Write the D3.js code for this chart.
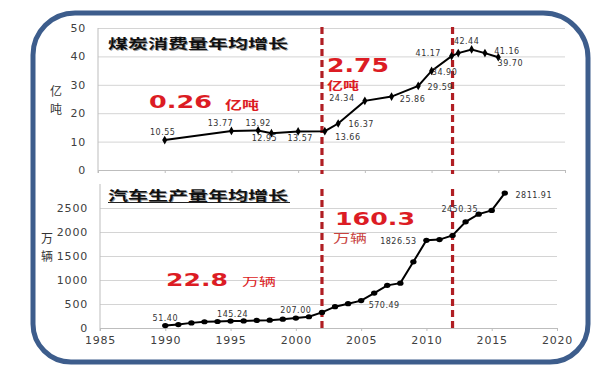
<!DOCTYPE html>
<html><head><meta charset="utf-8">
<script src="https://cdn.jsdelivr.net/npm/d3@7"></script>
<style>body{margin:0;background:#fff} svg{display:block}</style>
</head><body><svg id="c" width="600" height="366"></svg>
<script>
// ---------- data ----------
const xTicks = [1985,1990,1995,2000,2005,2010,2015,2020];
const coalTicks = [0,10,20,30,40,50];
const carTicks = [0,500,1000,1500,2000,2500];
const periodYears = [2002, 2012];

const coalYears  = [1990,1995,1997,1998,2000,2002,2003,2005,2007,2009,2010,2011.5,2012,2013,2014,2015];
const coalValues = [10.55,13.77,13.92,12.95,13.57,13.66,16.37,24.34,25.86,29.59,34.90,40.1,41.17,42.44,41.16,39.70];
const coalLabels = ["10.55","13.77","13.92","12.95","13.57","13.66","16.37","24.34","25.86","29.59","34.90","","41.17","42.44","41.16","39.70"];

const carYears  = [1990,1991,1992,1993,1994,1995,1996,1997,1998,1999,2000,2001,2002,2003,2004,2005,2006,2007,2008,2009,2010,2011,2012,2013,2014,2015,2016];
const carValues = [51.40,71.4,106.7,129.7,135.3,145.24,147.5,158.3,162.8,183.2,207.00,234.2,325.1,444.4,507.1,570.49,727.9,888.2,934.5,1379.1,1826.53,1841.6,1927.2,2211.7,2372.3,2450.35,2811.91];
const carLabels = ["51.40","","","","","145.24","","","","","207.00","","","","","570.49","","","","","1826.53","","","","","2450.35","2811.91"];

const coalTitle = "煤炭消费量年均增长";
const carTitle  = "汽车生产量年均增长";
const coalUnit = ["亿","吨"];
const carUnit  = ["万","辆"];
const coalRates = ["0.26","2.75"];
const carRates  = ["22.8","160.3"];
const coalRateUnit = "亿吨";
const carRateUnit  = "万辆";

// label offsets (layout only)
const coalLabelOffsets = [[-2,-5],[-11,-5],[0,-4],[-7,8],[2,10],[23,9],[23,3],[-23,0],[21,5],[22,4],[13,4],[0,0],[-30,3],[-5,-5],[22,1],[12,9]];
const carLabelOffsets = {0:[0,-5],5:[2,-4],10:[0,-5],15:[23,7],20:[-28,4],25:[-32,2],26:[29,5]};

// ---------- drawing ----------
const svg = d3.select("#c");
const num = "'DejaVu Sans', Verdana, sans-serif";
const cjk = "'Noto Sans CJK SC', sans-serif";
const red = "#dc1c24";

// frame
{
  const L=33,T=13,R=588,B=362,a=42,b=45,c=38,d=38;
  svg.append("path")
    .attr("d",`M${L},${T+a} A${a},${a} 0 0 1 ${L+a},${T} L${R-b},${T} A${b},${b} 0 0 1 ${R},${T+b} L${R},${B-c} A${c},${c} 0 0 1 ${R-c},${B} L${L+d},${B} A${d},${d} 0 0 1 ${L},${B-d} Z`)
    .attr("fill","none").attr("stroke","#3d5d8c").attr("stroke-width",5);
}

// scales
const xT = d3.scaleLinear().domain([1985,2020]).range([98,565]);
const yT = d3.scaleLinear().domain([0,50]).range([170,28]);
const xB = d3.scaleLinear().domain([1985,2020]).range([100,557]);
const yB = d3.scaleLinear().domain([0,3000]).range([328,184]);

function gridAndAxes(x, y, ticks, showXLabels, yTop) {
  const g = svg.append("g");
  g.append("g").attr("transform",`translate(${x.range()[0]},0)`)
    .call(d3.axisLeft(y).tickValues(ticks).tickSize(-(x.range()[1]-x.range()[0])).tickFormat(""))
    .call(s=>s.select(".domain").remove())
    .call(s=>s.selectAll("line").attr("stroke","#d4d4d4"));
  g.append("line").attr("x1",x.range()[0]).attr("x2",x.range()[0])
    .attr("y1",yTop).attr("y2",y(0)+3).attr("stroke","#bdbdbd");
  g.selectAll(".yl").data(ticks).join("text")
    .attr("x",x.range()[0]-12).attr("y",d=>y(d)+4)
    .attr("text-anchor","end").attr("font-family",num).attr("font-size",11)
    .attr("letter-spacing",0.8).attr("fill","#404040").text(d=>d);
  const ax = g.append("g").attr("transform",`translate(0,${y(0)})`)
    .call(d3.axisBottom(x).tickValues(xTicks).tickSize(3).tickSizeOuter(0).tickPadding(5)
      .tickFormat(showXLabels ? d3.format("d") : ""));
  ax.select(".domain").attr("stroke","#bdbdbd");
  ax.selectAll("line").attr("stroke","#bdbdbd");
  ax.selectAll("text").attr("font-family",num).attr("font-size",11).attr("letter-spacing",0.8).attr("fill","#404040");
}
gridAndAxes(xT, yT, coalTicks, false, 28);
gridAndAxes(xB, yB, carTicks, true, 184);

// titles
function title(txt, x, y, underline) {
  svg.append("text").attr("x",x+1).attr("y",y+1).attr("font-family",cjk).attr("font-weight",700)
    .attr("font-size",13).attr("textLength",180).attr("lengthAdjust","spacingAndGlyphs")
    .attr("fill","#9a9a9a").text(txt);
  svg.append("text").attr("x",x).attr("y",y).attr("font-family",cjk).attr("font-weight",700)
    .attr("font-size",13).attr("textLength",180).attr("lengthAdjust","spacingAndGlyphs")
    .attr("fill","#111").text(txt);
  if (underline) svg.append("line").attr("x1",x).attr("x2",x+182).attr("y1",y+2.5).attr("y2",y+2.5)
    .attr("stroke","#222").attr("stroke-width",1.2);
}
title(coalTitle,108,48,false);
title(carTitle,108,200,true);

// unit labels
function unit(chars, x, ys){
  chars.forEach((c,i)=>svg.append("text").attr("x",x).attr("y",ys[i]).attr("text-anchor","middle")
    .attr("font-family",cjk).attr("font-size",12).attr("fill","#333").text(c));
}
unit(coalUnit,56,[96,114]);
unit(carUnit,47,[243,261]);

// dashed period lines
function dashes(x, y0, y1){
  svg.selectAll(null).data(periodYears).join("line")
    .attr("x1",d=>x(d)).attr("x2",d=>x(d)).attr("y1",y0).attr("y2",y1)
    .attr("stroke","#b01e23").attr("stroke-width",3.2).attr("stroke-dasharray","7,4");
}
dashes(xB, 27, 174);
dashes(xB, 189, 331);

// lines + markers
const coalData = coalYears.map((y,i)=>({x:y,v:coalValues[i],l:coalLabels[i],o:coalLabelOffsets[i]}));
const carData  = carYears.map((y,i)=>({x:y,v:carValues[i],l:carLabels[i],o:carLabelOffsets[i]}));

svg.append("path").datum(coalData)
  .attr("d",d3.line().x(d=>xT(d.x)).y(d=>yT(d.v)))
  .attr("fill","none").attr("stroke","#000").attr("stroke-width",2);
svg.selectAll(".cm").data(coalData).join("path")
  .attr("transform",d=>`translate(${xT(d.x)},${yT(d.v)})`)
  .attr("d",d3.symbol(d3.symbolDiamond,22)).attr("fill","#000");

svg.append("path").datum(carData)
  .attr("d",d3.line().x(d=>xB(d.x)).y(d=>yB(d.v)))
  .attr("fill","none").attr("stroke","#000").attr("stroke-width",2);
svg.selectAll(".km").data(carData).join("ellipse")
  .attr("cx",d=>xB(d.x)).attr("cy",d=>yB(d.v)).attr("rx",3.2).attr("ry",2.6).attr("fill","#000");

// data labels
svg.selectAll(".cl").data(coalData.filter(d=>d.l)).join("text")
  .attr("x",d=>xT(d.x)+d.o[0]).attr("y",d=>yT(d.v)+d.o[1]).attr("text-anchor","middle")
  .attr("font-family",num).attr("font-size",8).attr("letter-spacing",0.5).attr("fill","#333").text(d=>d.l);
svg.selectAll(".kl").data(carData.filter(d=>d.l)).join("text")
  .attr("x",d=>xB(d.x)+d.o[0]).attr("y",d=>yB(d.v)+d.o[1]).attr("text-anchor","middle")
  .attr("font-family",num).attr("font-size",8).attr("letter-spacing",0.5).attr("fill","#333").text(d=>d.l);

// big annotations
function big(txt,x,y,size,len){
  svg.append("text").attr("x",x).attr("y",y).attr("font-family",num).attr("font-weight",700)
    .attr("font-size",size).attr("textLength",len).attr("lengthAdjust","spacingAndGlyphs")
    .attr("fill",red).text(txt);
}
function small(txt,x,y,size,len,weight,color){
  svg.append("text").attr("x",x).attr("y",y).attr("font-family",cjk).attr("font-weight",weight)
    .attr("font-size",size).attr("textLength",len).attr("lengthAdjust","spacingAndGlyphs")
    .attr("fill",color).text(txt);
}
big(coalRates[0],149,108,18,63);
small(coalRateUnit,225,110,12,34,700,red);
big(coalRates[1],327,72,19,62);
small(coalRateUnit,327,90,11.5,32,700,red);
big(carRates[0],166,286,18,62);
small(carRateUnit,242,286,11,34,400,red);
big(carRates[1],335,225,18,80);
small(carRateUnit,333,243,12,34,400,"#c8423e");
</script></body></html>
